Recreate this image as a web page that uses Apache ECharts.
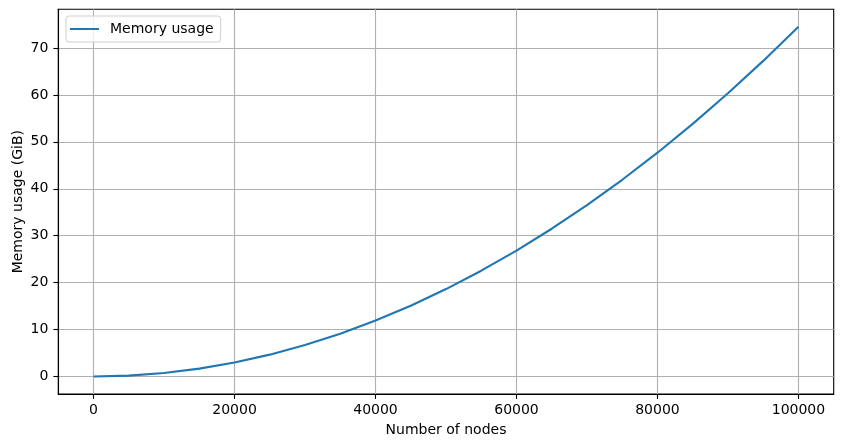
<!DOCTYPE html>
<html>
<head>
<meta charset="utf-8">
<script src="https://cdn.jsdelivr.net/npm/echarts@6/dist/echarts.min.js"></script>
<style>
  html, body { margin: 0; padding: 0; background: #fff; }
  #main { width: 842px; height: 448px; }
</style>
</head>
<body>
<div id="main"></div>
<script>
// values (GiB at every 5000 nodes)
var nodes = [0, 5000, 10000, 15000, 20000, 25000, 30000, 35000, 40000, 45000, 50000,
  55000, 60000, 65000, 70000, 75000, 80000, 85000, 90000, 95000, 100000];
var memory = [0, 0.19, 0.75, 1.68, 2.98, 4.66, 6.71, 9.13, 11.92, 15.09, 18.63,
  22.54, 26.82, 31.48, 36.51, 41.91, 47.68, 53.83, 60.35, 67.24, 74.51];
var xTicks = [0, 20000, 40000, 60000, 80000, 100000];
var yTicks = [0, 10, 20, 30, 40, 50, 60, 70];

var font = 'DejaVu Sans';
var chart = echarts.init(document.getElementById('main'));

var option = {
  animation: false,
  textStyle: { fontFamily: font },
  grid: {
    left: 58.3,
    right: 8.3,
    top: 9.3,
    bottom: 54,
    outerBoundsMode: 'none',
    containLabel: false,
    show: true,
    borderColor: '#000',
    borderWidth: 1.1
  },
  legend: {
    data: [{ name: 'Memory usage', icon: 'rect' }],
    left: 66,
    top: 16,
    padding: [5, 7, 5, 4],
    itemWidth: 29,
    itemHeight: 2,
    borderColor: '#d0d0d0',
    borderWidth: 1,
    borderRadius: 3,
    backgroundColor: 'rgba(255,255,255,0.8)',
    textStyle: { fontFamily: font, fontSize: 14, color: '#000', padding: [0, 0, 0, 6], lineHeight: 16 }
  },
  xAxis: {
    type: 'value',
    min: -5000,
    max: 105000,
    name: 'Number of nodes',
    nameLocation: 'middle',
    nameGap: 29,
    nameMoveOverlap: false,
    nameTextStyle: { fontFamily: font, fontSize: 14, color: '#000' },
    axisLine: { show: true, onZero: false, lineStyle: { color: '#000', width: 1.1 } },
    axisTick: { show: true, length: 4.9, customValues: xTicks, lineStyle: { color: '#000', width: 1.1 } },
    axisLabel: {
      customValues: xTicks,
      formatter: function (v) { return String(v); },
      fontFamily: font, fontSize: 14, color: '#000', margin: 9
    },
    splitLine: { show: true, lineStyle: { color: '#b0b0b0', width: 1.1 } }
  },
  yAxis: {
    type: 'value',
    min: -3.725,
    max: 78.23,
    name: 'Memory usage (GiB)',
    nameLocation: 'middle',
    nameGap: 33,
    nameMoveOverlap: false,
    nameTextStyle: { fontFamily: font, fontSize: 14, color: '#000' },
    axisLine: { show: true, onZero: false, lineStyle: { color: '#000', width: 1.1 } },
    axisTick: { show: true, length: 4.9, customValues: yTicks, lineStyle: { color: '#000', width: 1.1 } },
    axisLabel: { customValues: yTicks, fontFamily: font, fontSize: 14, color: '#000', margin: 10 },
    splitLine: { show: true, lineStyle: { color: '#b0b0b0', width: 1.1 } }
  },
  series: [{
    name: 'Memory usage',
    type: 'line',
    data: nodes.map(function (n, i) { return [n, memory[i]]; }),
    showSymbol: false,
    symbol: 'none',
    lineStyle: { color: '#1f77b4', width: 2.1 },
    itemStyle: { color: '#1f77b4' }
  }]
};

chart.setOption(option);
window.onresize = function () {
  chart.resize();
};
</script>
</body>
</html>
